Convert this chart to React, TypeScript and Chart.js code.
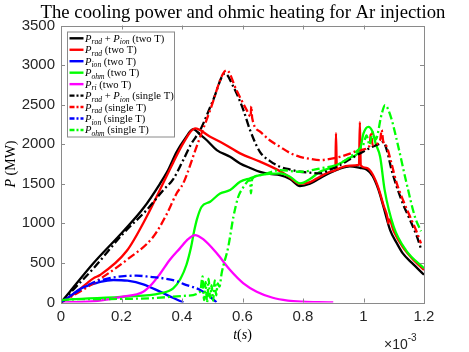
import React, { useEffect, useRef } from "react";
import { Chart, registerables } from "chart.js";

Chart.register(...registerables);

// ---------- data (t in units of 1e-3 s, P in MW) ----------
const TITLE = "The cooling power and ohmic heating for Ar injection";
const X_MIN = 0;
const X_MAX = 1.2;
const X_STEP = 0.2;
const Y_MIN = 0;
const Y_MAX = 3500;
const Y_STEP = 500;

// P_rad + P_ion (two T)
const T_SUM_2T = [0, 0.03, 0.107, 0.206, 0.272, 0.327, 0.355, 0.382, 0.41, 0.437, 0.46, 0.482, 0.515, 0.559, 0.592, 0.625, 0.658, 0.69, 0.724, 0.757, 0.79, 0.823, 0.856, 0.89, 0.922, 0.955, 0.988, 1.01, 1.03, 1.05, 1.066, 1.088, 1.11, 1.13, 1.16, 1.2];
const P_SUM_2T = [0, 140, 495, 900, 1190, 1500, 1680, 1900, 2070, 2190, 2120, 2050, 1926, 1841, 1757, 1700, 1650, 1625, 1610, 1560, 1470, 1500, 1570, 1640, 1690, 1720, 1700, 1680, 1600, 1420, 1210, 915, 750, 620, 500, 350];

// P_rad (two T)
const T_RAD_2T = [0, 0.05, 0.107, 0.129, 0.217, 0.283, 0.338, 0.37, 0.404, 0.443, 0.493, 0.536, 0.592, 0.658, 0.724, 0.757, 0.79, 0.823, 0.856, 0.9, 0.907, 0.909, 0.912, 0.922, 0.955, 0.985, 0.988, 0.991, 1.01, 1.03, 1.05, 1.066, 1.08, 1.082, 1.085, 1.1, 1.13, 1.16, 1.2];
const P_RAD_2T = [0, 130, 305, 347, 650, 1083, 1510, 1760, 2010, 2200, 2094, 2010, 1884, 1780, 1660, 1580, 1500, 1520, 1590, 1660, 1670, 2140, 1680, 1700, 1730, 1740, 2280, 1730, 1700, 1620, 1440, 1230, 1060, 1000, 1050, 900, 700, 560, 410];

// P_ion (two T)
const T_ION_2T = [0, 0.03, 0.063, 0.096, 0.13, 0.173, 0.22, 0.272, 0.327, 0.37, 0.405];
const P_ION_2T = [0, 80, 170, 221, 262, 284, 275, 230, 137, 60, 0];

// P_ohm (two T)
const T_OHM_2T = [0, 0.03, 0.217, 0.327, 0.371, 0.395, 0.415, 0.43, 0.44, 0.45, 0.465, 0.493, 0.526, 0.559, 0.592, 0.625, 0.658, 0.724, 0.757, 0.79, 0.823, 0.856, 0.89, 0.922, 0.955, 0.988, 1.0, 1.016, 1.03, 1.04, 1.055, 1.07, 1.1, 1.14, 1.2];
const P_OHM_2T = [30, 40, 74, 116, 179, 300, 480, 700, 900, 1060, 1210, 1273, 1378, 1420, 1525, 1570, 1610, 1631, 1590, 1505, 1560, 1652, 1700, 1757, 1830, 1926, 2136, 2220, 2157, 2010, 1841, 1420, 957, 663, 432];

// P_ri (two T)
const T_RI_2T = [0, 0.1, 0.162, 0.2, 0.272, 0.3, 0.327, 0.36, 0.393, 0.42, 0.443, 0.47, 0.515, 0.559, 0.603, 0.647, 0.7, 0.75, 0.8, 0.85, 0.9];
const P_RI_2T = [0, 15, 44, 70, 137, 230, 360, 540, 684, 800, 852, 800, 621, 410, 242, 137, 60, 25, 10, 3, 0];

// P_rad + P_ion (single T)
const T_SUM_1T = [0, 0.05, 0.107, 0.206, 0.283, 0.338, 0.371, 0.404, 0.43, 0.46, 0.503, 0.542, 0.57, 0.603, 0.625, 0.658, 0.69, 0.724, 0.757, 0.79, 0.823, 0.856, 0.89, 0.922, 0.955, 0.988, 1.02, 1.055, 1.065, 1.077, 1.093, 1.11, 1.13, 1.154, 1.175, 1.19];
const P_SUM_1T = [0, 200, 430, 873, 1168, 1420, 1560, 1799, 2000, 2178, 2557, 2894, 2725, 2431, 2178, 1900, 1790, 1715, 1680, 1652, 1640, 1631, 1680, 1736, 1810, 1884, 1950, 2010, 2030, 1926, 1673, 1462, 1250, 1042, 850, 680];

// P_rad (single T)
const T_RAD_1T = [0, 0.05, 0.107, 0.217, 0.305, 0.35, 0.382, 0.404, 0.448, 0.493, 0.536, 0.548, 0.58, 0.614, 0.627, 0.629, 0.632, 0.658, 0.69, 0.724, 0.757, 0.79, 0.823, 0.856, 0.89, 0.922, 0.955, 0.988, 1.02, 1.025, 1.03, 1.055, 1.06, 1.065, 1.077, 1.093, 1.11, 1.13, 1.154, 1.175, 1.19];
const P_RAD_1T = [0, 110, 242, 537, 831, 1120, 1378, 1505, 1967, 2431, 2894, 2935, 2683, 2431, 2350, 2480, 2330, 2160, 2050, 1967, 1890, 1841, 1815, 1799, 1815, 1841, 1880, 1926, 1980, 2150, 1990, 2052, 2180, 2040, 1967, 1750, 1505, 1300, 1083, 900, 747];

// P_ion (single T)
const T_ION_1T = [0, 0.05, 0.1, 0.15, 0.2, 0.25, 0.294, 0.34, 0.382, 0.404, 0.46, 0.49, 0.514];
const P_ION_1T = [0, 130, 240, 300, 330, 339, 325, 305, 270, 235, 158, 80, 5];

// P_ohm (single T)
const T_OHM_1T = [0, 0.03, 0.2, 0.3, 0.415, 0.46, 0.468, 0.473, 0.478, 0.483, 0.488, 0.493, 0.498, 0.503, 0.508, 0.513, 0.518, 0.524, 0.531, 0.553, 0.57, 0.586, 0.6, 0.625, 0.628, 0.632, 0.658, 0.724, 0.79, 0.856, 0.922, 0.988, 1.0, 1.01, 1.02, 1.03, 1.04, 1.06, 1.071, 1.09, 1.11, 1.14, 1.17, 1.19];
const P_OHM_1T = [30, 40, 45, 55, 86, 137, 330, 30, 260, 0, 300, 60, 220, 20, 280, 90, 240, 200, 368, 705, 1083, 1336, 1440, 1546, 1378, 1560, 1610, 1673, 1652, 1694, 1757, 1947, 2000, 2110, 1990, 2150, 2060, 2380, 2494, 2350, 2052, 1546, 1083, 900];

type Seg = [string, "i" | "s" | "n"];

const SERIES: { label: Seg[]; t: number[]; p: number[]; color: string; dash: number[] }[] = [
  { label: [["P", "i"], ["rad", "s"], [" + ", "n"], ["P", "i"], ["ion", "s"], [" (two T)", "n"]], t: T_SUM_2T, p: P_SUM_2T, color: "#000000", dash: [] },
  { label: [["P", "i"], ["rad", "s"], [" (two T)", "n"]], t: T_RAD_2T, p: P_RAD_2T, color: "#ff0000", dash: [] },
  { label: [["P", "i"], ["ion", "s"], [" (two T)", "n"]], t: T_ION_2T, p: P_ION_2T, color: "#0000ff", dash: [] },
  { label: [["P", "i"], ["ohm", "s"], [" (two T)", "n"]], t: T_OHM_2T, p: P_OHM_2T, color: "#00ff00", dash: [] },
  { label: [["P", "i"], ["ri", "s"], [" (two T)", "n"]], t: T_RI_2T, p: P_RI_2T, color: "#ff00ff", dash: [] },
  { label: [["P", "i"], ["rad", "s"], [" + ", "n"], ["P", "i"], ["ion", "s"], [" (single T)", "n"]], t: T_SUM_1T, p: P_SUM_1T, color: "#000000", dash: [8, 3, 2, 3] },
  { label: [["P", "i"], ["rad", "s"], [" (single T)", "n"]], t: T_RAD_1T, p: P_RAD_1T, color: "#ff0000", dash: [8, 3, 2, 3] },
  { label: [["P", "i"], ["ion", "s"], [" (single T)", "n"]], t: T_ION_1T, p: P_ION_1T, color: "#0000ff", dash: [8, 3, 2, 3] },
  { label: [["P", "i"], ["ohm", "s"], [" (single T)", "n"]], t: T_OHM_1T, p: P_OHM_1T, color: "#00ff00", dash: [8, 3, 2, 3] },
];

const SERIF = "'Liberation Serif', 'DejaVu Serif', serif";
const SANS = "'Liberation Sans', Arial, sans-serif";
const AXIS_GRAY = "#8a8a8a";
const TEXT_COLOR = "#262626";

function drawRich(ctx: CanvasRenderingContext2D, segs: Seg[], x: number, y: number, size: number) {
  let cx = x;
  for (const [txt, kind] of segs) {
    if (kind === "s") {
      ctx.font = `italic ${size * 0.72}px ${SERIF}`;
      ctx.fillText(txt, cx, y + size * 0.25);
    } else {
      ctx.font = `${kind === "i" ? "italic " : ""}${size}px ${SERIF}`;
      ctx.fillText(txt, cx, y);
    }
    cx += ctx.measureText(txt).width;
  }
}

const overlayPlugin = {
  id: "overlay",
  afterDraw(chart: any) {
    const ctx: CanvasRenderingContext2D = chart.ctx;
    const a = chart.chartArea;
    const xs = chart.scales.x;
    const ys = chart.scales.y;
    ctx.save();
    // axes box
    ctx.strokeStyle = AXIS_GRAY;
    ctx.lineWidth = 1;
    ctx.setLineDash([]);
    ctx.strokeRect(Math.round(a.left) + 0.5, Math.round(a.top) + 0.5, Math.round(a.right - a.left), Math.round(a.bottom - a.top));
    // inward ticks
    const tl = 4;
    ctx.beginPath();
    for (let v = X_MIN + X_STEP; v < X_MAX - 1e-9; v += X_STEP) {
      const px = Math.round(xs.getPixelForValue(v)) + 0.5;
      ctx.moveTo(px, a.bottom); ctx.lineTo(px, a.bottom - tl);
      ctx.moveTo(px, a.top); ctx.lineTo(px, a.top + tl);
    }
    for (let v = Y_MIN + Y_STEP; v < Y_MAX - 1e-9; v += Y_STEP) {
      const py = Math.round(ys.getPixelForValue(v)) + 0.5;
      ctx.moveTo(a.left, py); ctx.lineTo(a.left + tl, py);
      ctx.moveTo(a.right, py); ctx.lineTo(a.right - tl, py);
    }
    ctx.stroke();

    // title
    ctx.fillStyle = "#000";
    ctx.textBaseline = "alphabetic";
    ctx.font = `18px ${SERIF}`;
    const w0 = ctx.measureText(TITLE).width;
    const tSize = (18 * 405) / w0;
    ctx.font = `${tSize}px ${SERIF}`;
    ctx.textAlign = "center";
    ctx.fillText(TITLE, 243, 18);

    // x axis label t(s)
    ctx.textAlign = "left";
    const xl: Seg[] = [["t", "i"], ["(", "n"], ["s", "i"], [")", "n"]];
    let wx = 0;
    for (const [txt, k] of xl) { ctx.font = `${k === "i" ? "italic " : ""}14px ${SERIF}`; wx += ctx.measureText(txt).width; }
    drawRich(ctx, xl, (a.left + a.right) / 2 - wx / 2, 339, 14);

    // y axis label P (MW)
    ctx.save();
    ctx.translate(15, (a.top + a.bottom) / 2);
    ctx.rotate(-Math.PI / 2);
    const yl: Seg[] = [["P", "i"], [" (MW)", "n"]];
    let wy = 0;
    for (const [txt, k] of yl) { ctx.font = `${k === "i" ? "italic " : ""}14px ${SERIF}`; wy += ctx.measureText(txt).width; }
    drawRich(ctx, yl, -wy / 2, 0, 14);
    ctx.restore();

    // x10^-3
    ctx.fillStyle = TEXT_COLOR;
    ctx.font = `14px ${SANS}`;
    ctx.textAlign = "left";
    ctx.fillText("\u00d710", 384, 349);
    const w10 = ctx.measureText("\u00d710").width;
    ctx.font = `10px ${SANS}`;
    ctx.fillText("-3", 384 + w10, 341);

    // legend
    const lx = 67, ly = 31.5, lw = 107, lh = 105;
    ctx.fillStyle = "#fff";
    ctx.fillRect(lx, ly, lw, lh);
    ctx.strokeStyle = AXIS_GRAY;
    ctx.lineWidth = 1;
    ctx.strokeRect(lx + 0.5, ly + 0.5, lw, lh);
    SERIES.forEach((s, i) => {
      const cy = 38.3 + i * 11.46;
      ctx.strokeStyle = s.color;
      ctx.lineWidth = 2.4;
      ctx.setLineDash(s.dash.length ? [5, 2, 2, 2] : []);
      ctx.beginPath();
      ctx.moveTo(69.5, cy);
      ctx.lineTo(83.5, cy);
      ctx.stroke();
      ctx.setLineDash([]);
      ctx.fillStyle = "#000";
      drawRich(ctx, s.label, 85, cy + 3.5, 10.6);
    });
    ctx.restore();
  },
};

export default function App() {
  const ref = useRef<HTMLCanvasElement | null>(null);
  useEffect(() => {
    document.body.style.margin = "0";
    const canvas = ref.current;
    if (!canvas) return;
    const datasets = SERIES.map((s, i) => ({
      label: s.label.map((x) => x[0]).join(""),
      data: s.t.map((t, k) => ({ x: t, y: s.p[k] })),
      borderColor: s.color,
      backgroundColor: s.color,
      borderWidth: 2.3,
      borderDash: s.dash,
      pointRadius: 0,
      fill: false,
      tension: 0,
      cubicInterpolationMode: "monotone" as const,
      order: SERIES.length - i,
    }));
    const chart = new Chart(canvas, {
      type: "line",
      data: { datasets },
      options: {
        animation: false,
        responsive: false,
        devicePixelRatio: 1,
        layout: { padding: { top: 25.5, right: 45, bottom: 0, left: 0 } },
        plugins: { legend: { display: false }, title: { display: false }, tooltip: { enabled: false } },
        scales: {
          x: {
            type: "linear",
            min: X_MIN,
            max: X_MAX,
            grid: { display: false, drawTicks: false },
            border: { display: false },
            ticks: {
              stepSize: X_STEP,
              padding: 5,
              color: TEXT_COLOR,
              font: { family: SANS, size: 15 },
              maxRotation: 0,
              callback: (v: any) => String(Number(Number(v).toFixed(1))),
            },
            afterFit: (s: any) => { s.height = 49.5; },
          },
          y: {
            type: "linear",
            min: Y_MIN,
            max: Y_MAX,
            grid: { display: false, drawTicks: false },
            border: { display: false },
            ticks: {
              stepSize: Y_STEP,
              padding: 6,
              color: TEXT_COLOR,
              font: { family: SANS, size: 15 },
              callback: (v: any) => String(Math.round(Number(v))),
            },
            afterFit: (s: any) => { s.width = 61; },
          },
        },
      },
      plugins: [overlayPlugin],
    });
    return () => chart.destroy();
  }, []);
  return (
    <div style={{ width: 469, height: 352, position: "relative" }}>
      <canvas ref={ref} width={469} height={352} style={{ display: "block" }} />
    </div>
  );
}
